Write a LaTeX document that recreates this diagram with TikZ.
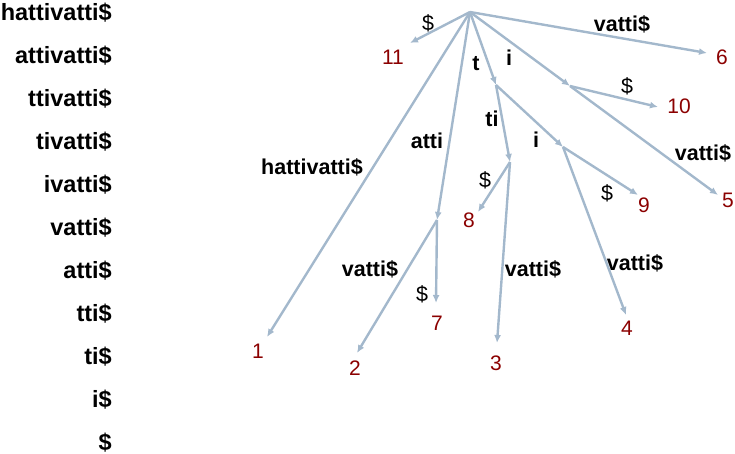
\documentclass[tikz,border=0pt]{standalone}
\usepackage{fontspec}
\setmainfont{Liberation Sans}
\usetikzlibrary{arrows.meta}
\definecolor{edgec}{HTML}{A3B8CC}
\definecolor{numc}{HTML}{8B0000}
\tikzset{
  suffix/.style={anchor=east,font=\fontsize{23.5}{25}\selectfont\bfseries,inner sep=0pt},
  elabel/.style={font=\fontsize{21.5}{23}\selectfont\bfseries,inner sep=0pt},
  dlabel/.style={font=\fontsize{21.5}{23}\selectfont,inner sep=0pt},
  leafnum/.style={font=\fontsize{21}{23}\selectfont,text=numc,inner sep=0pt},
  edge/.style={draw=edgec,line width=2.4pt,-{Latex[length=8pt,width=7pt]}},
}
\begin{document}
\begin{tikzpicture}[x=1pt,y=-1pt]
\useasboundingbox (0,0) rectangle (735,454);
% suffix list
\node[suffix] (s1) at (112,12.5) {hattivatti\$};
\node[suffix] (s2) at (112,55.5) {attivatti\$};
\node[suffix] (s3) at (112,98.5) {ttivatti\$};
\node[suffix] (s4) at (112,141.5) {tivatti\$};
\node[suffix] (s5) at (112,184.5) {ivatti\$};
\node[suffix] (s6) at (112,227.5) {vatti\$};
\node[suffix] (s7) at (112,270.5) {atti\$};
\node[suffix] (s8) at (112,313.5) {tti\$};
\node[suffix] (s9) at (112,356.5) {ti\$};
\node[suffix] (s10) at (112,399.5) {i\$};
\node[suffix] (s11) at (112,442.5) {\$};
% internal nodes
\coordinate (root) at (470,12);
\coordinate (ni) at (570,86);
\coordinate (nt) at (496,85);
\coordinate (nti) at (510,162);
\coordinate (ntii) at (563,147);
\coordinate (natti) at (437,220);
% leaf tips
\coordinate (t11) at (410,43);
\coordinate (t6) at (707,53);
\coordinate (t1) at (267,337);
\coordinate (t10) at (658,107);
\coordinate (t5) at (718,195);
\coordinate (t8) at (478,212);
\coordinate (t3) at (497,343);
\coordinate (t9) at (638,195);
\coordinate (t4) at (626,315);
\coordinate (t7) at (436,303);
\coordinate (t2) at (357,353);
% leaf numbers
\node[leafnum] (l11) at (393,57) {11};
\node[leafnum] (l6) at (722,57) {6};
\node[leafnum] (l1) at (258,351) {1};
\node[leafnum] (l10) at (679,106) {10};
\node[leafnum] (l5) at (728,200) {5};
\node[leafnum] (l8) at (469,220) {8};
\node[leafnum] (l3) at (496,363) {3};
\node[leafnum] (l9) at (644,205) {9};
\node[leafnum] (l4) at (627,328) {4};
\node[leafnum] (l7) at (437,323) {7};
\node[leafnum] (l2) at (355,368) {2};
% edges
\draw[edge] (root) -- (t11);
\draw[edge] (root) -- (t6);
\draw[edge] (root) -- (t1);
\draw[edge] (root) -- (natti);
\draw[edge] (root) -- (nt);
\draw[edge] (root) -- (ni);
\draw[edge] (ni) -- (t10);
\draw[edge] (ni) -- (t5);
\draw[edge] (nt) -- (nti);
\draw[edge] (nt) -- (ntii);
\draw[edge] (nti) -- (t8);
\draw[edge] (nti) -- (t3);
\draw[edge] (ntii) -- (t9);
\draw[edge] (ntii) -- (t4);
\draw[edge] (natti) -- (t7);
\draw[edge] (natti) -- (t2);
% edge labels
\node[dlabel] (e11) at (428,23) {\$};
\node[elabel] (e6) at (622,24) {vatti\$};
\node[elabel] (e1) at (312,167) {hattivatti\$};
\node[elabel] (eatti) at (427,141) {atti};
\node[elabel] (et) at (476,64) {t};
\node[elabel] (ei) at (509,58) {i};
\node[dlabel] (e10) at (627,86) {\$};
\node[elabel] (e5) at (703,153) {vatti\$};
\node[elabel] (eti) at (492,119) {ti};
\node[elabel] (eii) at (536,140) {i};
\node[dlabel] (e8) at (485,180) {\$};
\node[elabel] (e3) at (533,269) {vatti\$};
\node[dlabel] (e9) at (607,193) {\$};
\node[elabel] (e4) at (635,263) {vatti\$};
\node[dlabel] (e7) at (422,294) {\$};
\node[elabel] (e2) at (370,269) {vatti\$};
\end{tikzpicture}
\end{document}
